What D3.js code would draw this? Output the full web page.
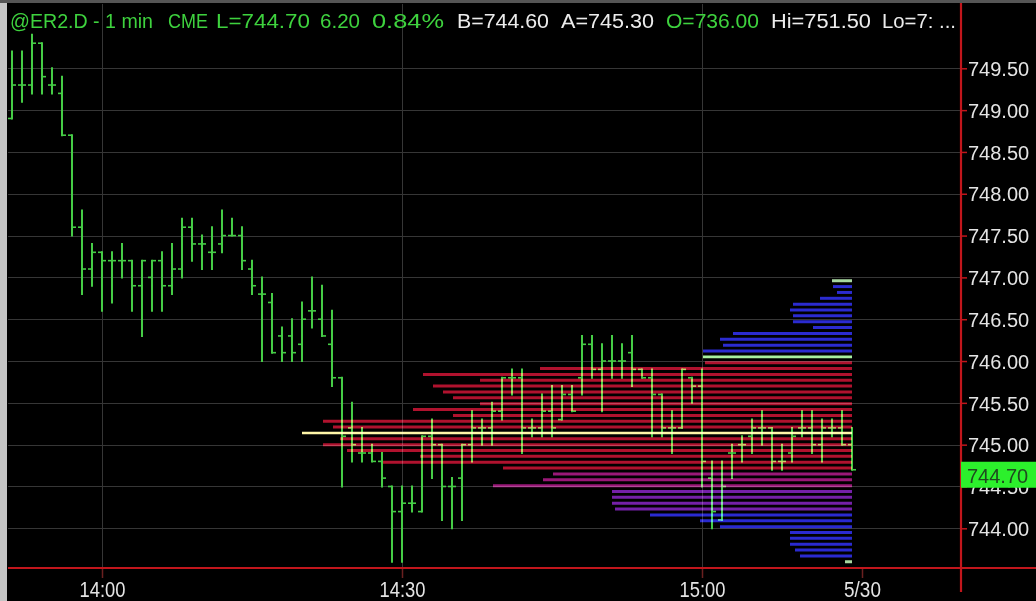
<!DOCTYPE html>
<html><head><meta charset="utf-8">
<script src="https://cdn.jsdelivr.net/npm/d3@7"></script>
<style>html,body{margin:0;padding:0;background:#000;overflow:hidden}svg{display:block}</style>
</head><body>
<svg id="c" width="1036" height="601"></svg>
<script>
// ---------------- DATA ----------------
const firstBarTime = "13:51";   // bars are consecutive 1-minute bars
const opens  = [748.9,749.3,749.3,749.8,749.3,749.2,748.7,747.6,747.1,747.3,747.2,747.2,747.2,746.9,747.0,747.2,746.9,747.1,747.6,747.4,747.3,747.4,747.5,747.5,747.1,746.8,746.7,746.3,746.3,746.2,746.6,746.5,746.2,745.8,745.2,744.9,744.9,744.8,744.5,744.2,744.3,744.2,745.1,745.0,744.5,744.6,745.0,745.2,745.2,745.4,745.8,745.8,745.2,745.2,745.4,745.3,745.6,745.8,746.2,745.9,746.0,746.0,746.1,745.9,745.8,745.6,745.2,745.2,745.8,745.7,744.6,744.1,744.9,745.0,745.1,745.2,745.2,744.8,744.9,745.2,745.2,745.0,745.2,745.2,745.0];
const highs  = [749.7,749.7,749.9,749.8,749.5,749.4,748.7,747.8,747.4,747.3,747.3,747.4,747.2,747.2,747.2,747.3,747.4,747.7,747.7,747.5,747.6,747.8,747.7,747.6,747.2,747.0,746.8,746.4,746.5,746.7,747.0,746.9,746.6,745.8,745.5,745.2,745.0,744.9,744.5,744.5,744.5,745.1,745.3,745.0,744.6,745.0,745.4,745.3,745.5,745.8,745.9,745.9,745.3,745.6,745.7,745.7,745.7,746.3,746.3,746.2,746.3,746.2,746.3,745.9,745.9,745.6,745.4,745.9,745.8,745.9,744.8,744.8,745.0,745.1,745.3,745.4,745.2,745.0,745.2,745.4,745.4,745.3,745.3,745.4,745.2];
const lows   = [748.9,749.1,749.2,749.2,749.2,748.7,747.5,746.8,746.9,746.6,746.7,747.0,746.6,746.3,746.6,746.6,746.8,747.0,747.2,747.1,747.1,747.3,747.5,747.1,746.8,746.0,746.1,746.0,746.0,746.0,746.4,746.3,745.7,744.5,744.8,744.8,744.8,744.5,743.6,743.6,744.2,744.2,744.6,744.1,744.0,744.1,744.8,745.0,745.0,745.3,745.6,744.9,745.1,745.1,745.1,745.3,745.4,745.6,745.8,745.4,745.8,745.8,745.7,745.8,745.1,745.1,744.9,745.2,745.5,744.5,744.0,744.1,744.6,744.8,744.9,745.0,744.7,744.7,744.8,745.1,744.9,744.8,745.1,745.0,744.7];
const closes = [749.3,749.3,749.8,749.4,749.3,748.7,747.6,747.1,747.3,747.2,747.2,747.2,746.9,747.2,747.2,746.9,747.1,747.6,747.4,747.4,747.3,747.5,747.5,747.2,746.9,746.8,746.1,746.1,746.1,746.5,746.6,746.3,745.8,745.1,745.0,744.9,744.8,744.6,744.2,744.3,744.3,745.1,745.0,744.5,744.5,745.0,745.2,745.2,745.4,745.8,745.8,745.2,745.2,745.4,745.2,745.6,745.4,746.2,745.9,746.0,746.0,746.0,745.9,745.8,745.6,745.2,745.2,745.9,745.7,744.8,744.2,744.5,744.9,745.0,745.2,745.2,744.8,744.8,745.1,745.2,745.0,745.2,745.2,745.0,744.7];

// volume-at-price profile rows (price, volume)
const profilePrices  = [746.96,746.89,746.82,746.75,746.68,746.61,746.54,746.47,746.40,746.33,746.26,746.19,746.12,746.05,745.98,745.91,745.84,745.77,745.70,745.63,745.56,745.49,745.42,745.35,745.28,745.21,745.14,745.07,745.00,744.93,744.86,744.79,744.72,744.65,744.58,744.51,744.44,744.37,744.30,744.23,744.16,744.09,744.02,743.95,743.88,743.81,743.74,743.67,743.60];
const profileVolumes = [40,38,30,64,118,124,118,118,78,238,264,258,298,298,294,624,858,744,838,818,798,744,878,798,1058,1038,1100,1024,1058,1010,864,938,698,598,618,718,480,480,480,474,404,304,264,124,124,124,114,104,14];
const pocPrice = 745.14, vaHighPrice = 746.05, vaLowPrice = 744.72;
const lastPrice = 744.70;

const priceTicks = [744.0,744.5,745.0,745.5,746.0,746.5,747.0,747.5,748.0,748.5,749.0,749.5];
const timeTickTimes  = ["14:00","14:30","15:00","15:16"];
const timeTickLabels = ["14:00","14:30","15:00","5/30"];
const headerTexts = ["@ER2.D - 1 min","CME","L=744.70","6.20","0.84%","B=744.60","A=745.30","O=736.00","Hi=751.50","Lo=7: ..."];

// ---------------- LAYOUT / STYLE ----------------
const headerLayout = [[10,143,"g"],[168,40,"g"],[216,94,"g"],[320,40,"g"],[372,72,"g"],[457,92,"w"],[561,93,"w"],[666,93,"g"],[771,100,"w"],[882,74,"w"]];
const W = 1036, H = 601, plotL = 8, axisX = 961, axisY = 568;
const GREEN = "#46cc46", RED = "#c2161c", GRID = "#363636";
const FONT = "'Liberation Sans', Arial, sans-serif";

const svg = d3.select("#c");
svg.append("rect").attr("width", W).attr("height", H).attr("fill", "#000");

const parse = d3.timeParse("%H:%M");
const t0 = parse(firstBarTime);
const bars = opens.map((o, i) => ({t: d3.timeMinute.offset(t0, i), o, h: highs[i], l: lows[i], c: closes[i]}));

const x = d3.scaleTime().domain([parse("14:00"), parse("15:00")]).range([102, 702]);
const y = d3.scaleLinear().domain([744.0, 749.5]).range([528.3, 68.3]);

// grid lines
const grid = svg.append("g");
grid.selectAll("line.h").data(priceTicks).join("line")
  .attr("x1", plotL).attr("x2", axisX).attr("y1", d => Math.round(y(d)) + .5).attr("y2", d => Math.round(y(d)) + .5)
  .attr("stroke", GRID).attr("stroke-width", 1);
grid.selectAll("line.v").data(timeTickTimes.slice(0, 3)).join("line")
  .attr("x1", d => Math.round(x(parse(d))) + .5).attr("x2", d => Math.round(x(parse(d))) + .5)
  .attr("y1", 4).attr("y2", axisY)
  .attr("stroke", GRID).attr("stroke-width", 1);

// bars
const barG = svg.append("g").attr("stroke", GREEN).attr("stroke-width", 2);
barG.selectAll("g").data(bars).join("g").each(function(d) {
  const g = d3.select(this), cx = Math.round(x(d.t));
  g.append("line").attr("x1", cx).attr("x2", cx).attr("y1", y(d.h) - 1).attr("y2", y(d.l) + 1);
  g.append("line").attr("x1", cx - 4).attr("x2", cx).attr("y1", y(d.o)).attr("y2", y(d.o)).attr("stroke-width", 1.6);
  g.append("line").attr("x1", cx).attr("x2", cx + 4).attr("y1", y(d.c)).attr("y2", y(d.c)).attr("stroke-width", 1.6);
});

// volume profile
const rightEdge = x(bars[bars.length - 1].t);
const xv = d3.scaleLinear().domain([0, d3.max(profileVolumes)]).range([0, rightEdge - 302]);
const pMax = d3.max(profilePrices), pMin = d3.min(profilePrices);
function rowColor(p) {
  if (p === pMax || p === pMin) return "#a8d8a0";
  if (p === vaHighPrice) return "#a8f0a0";
  if (p === pocPrice) return "#fff5a8";
  if (p > vaHighPrice) return "#2b2bd0";
  if (p >= vaLowPrice) return "#b0122e";
  if (p >= 744.50) return "#9a1878";
  if (p >= 744.22) return "#7420a8";
  return "#2a2ad0";
}
const prof = svg.append("g").style("mix-blend-mode", "screen");
prof.selectAll("line").data(profilePrices.map((p, i) => ({p, v: profileVolumes[i]}))).join("line")
  .attr("x1", d => rightEdge - xv(d.v)).attr("x2", rightEdge)
  .attr("y1", d => y(d.p)).attr("y2", d => y(d.p))
  .attr("stroke", d => rowColor(d.p))
  .attr("stroke-width", d => (d.p === pocPrice || d.p === vaHighPrice) ? 2.6 : 3);

// borders
svg.append("rect").attr("x", 0).attr("y", 0).attr("width", plotL - 1).attr("height", H).attr("fill", "#c4c4c4");
svg.append("rect").attr("x", 0).attr("y", 0).attr("width", W).attr("height", 3).attr("fill", "#555");

// right price axis
const yAxis = d3.axisRight(y).tickValues(priceTicks).tickFormat(d3.format(".2f")).tickSize(6).tickPadding(1);
const ya = svg.append("g").attr("transform", `translate(${axisX},0)`).call(yAxis);
ya.select(".domain").remove();
ya.selectAll(".tick line").attr("stroke", RED).attr("stroke-width", 1.5);
ya.selectAll(".tick text").attr("fill", "#e4e4e4").attr("font-family", FONT).attr("font-size", 20).attr("dy", "0.36em");

// bottom time axis
const xAxis = d3.axisBottom(x).tickValues(timeTickTimes.map(parse)).tickFormat((d, i) => timeTickLabels[i]).tickSize(10).tickPadding(3);
const xa = svg.append("g").attr("transform", `translate(0,${axisY})`).call(xAxis);
xa.select(".domain").remove();
xa.selectAll(".tick line").attr("stroke", "#6a2020").attr("stroke-width", 1.5);
xa.selectAll(".tick text").attr("fill", "#e4e4e4").attr("font-family", FONT).attr("font-size", 22)
  .attr("dy", null).attr("y", 29)
  .attr("textLength", (d, i) => timeTickLabels[i].length * 9.2).attr("lengthAdjust", "spacingAndGlyphs");

// red axis lines
svg.append("line").attr("x1", plotL).attr("x2", W).attr("y1", axisY).attr("y2", axisY).attr("stroke", RED).attr("stroke-width", 2.2);
svg.append("line").attr("x1", axisX).attr("x2", axisX).attr("y1", 3).attr("y2", 592).attr("stroke", RED).attr("stroke-width", 2.2);

// last price marker
const ly = y(lastPrice);
svg.append("rect").attr("x", axisX).attr("y", ly - 8).attr("width", W - axisX).attr("height", 26).attr("fill", "#2cf02c");
svg.append("text").attr("x", 967).attr("y", ly + 13).text(d3.format(".2f")(lastPrice))
  .attr("fill", "#1f4a1f").attr("font-family", FONT).attr("font-size", 20);

// header
svg.append("g").selectAll("text").data(headerTexts).join("text")
  .attr("x", (d, i) => headerLayout[i][0]).attr("y", 28)
  .attr("textLength", (d, i) => headerLayout[i][1]).attr("lengthAdjust", "spacingAndGlyphs")
  .attr("fill", (d, i) => headerLayout[i][2] === "g" ? "#3ed23e" : "#ececec")
  .attr("font-family", FONT).attr("font-size", 20)
  .text(d => d);
</script>
</body></html>
